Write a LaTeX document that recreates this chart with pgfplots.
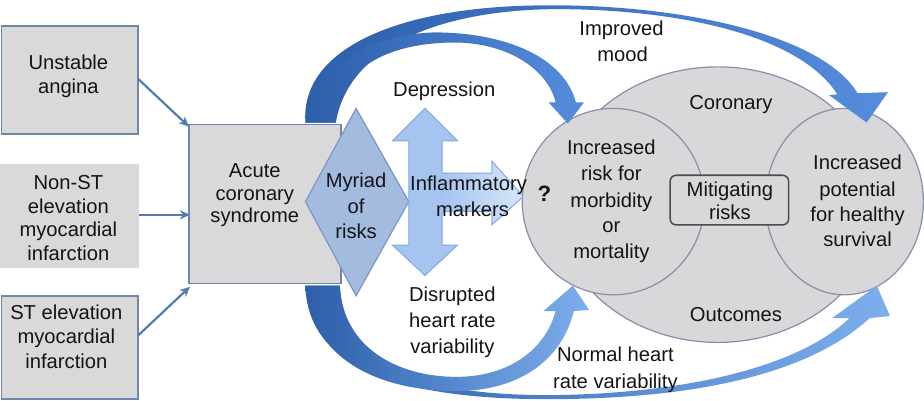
\documentclass[border=0pt]{standalone}
\usepackage{pgfplots}
\pgfplotsset{compat=1.18}
\usepackage{fontspec}
\setmainfont{Liberation Sans}
\usetikzlibrary{arrows.meta}
\definecolor{boxfill}{RGB}{217,217,217}
\definecolor{boxedge}{RGB}{110,135,170}
\definecolor{ellfill}{RGB}{216,216,218}
\definecolor{elledge}{RGB}{135,145,165}
\definecolor{diafill}{RGB}{163,187,222}
\definecolor{diaedge}{RGB}{125,150,195}
\definecolor{dafill}{RGB}{165,196,240}
\definecolor{daedge}{RGB}{135,168,220}
\definecolor{dalight}{RGB}{215,230,250}
\definecolor{arrdark}{RGB}{45,95,170}
\definecolor{arrlight}{RGB}{85,140,220}
\definecolor{arrlight2}{RGB}{125,175,238}
\definecolor{thinarr}{RGB}{85,125,175}
\definecolor{txt}{RGB}{20,20,20}
\newcommand\T[3]{\node[anchor=base,yshift=-6.5bp,text=txt,inner sep=0pt,font=\fontsize{20}{24}\selectfont] at (axis cs:#1,#2) {#3};}
\begin{document}
\begin{tikzpicture}
\begin{axis}[scale only axis, width=924bp, height=401bp,
  xmin=0, xmax=924, ymin=0, ymax=401, y dir=reverse, hide axis, clip=false]
% big ellipse and circles
\draw[elledge, fill=ellfill, line width=1.2bp] (axis cs:720,208) ellipse [x radius=160bp, y radius=136bp];
\draw[elledge, fill=ellfill, line width=1.2bp] (axis cs:617,205) ellipse [x radius=90bp, y radius=92bp];
\draw[elledge, fill=ellfill, line width=1.2bp] (axis cs:845,205) ellipse [x radius=78bp, y radius=92bp];
% mitigating box
\draw[black!70, fill=ellfill, line width=1.5bp, rounded corners=6bp] (axis cs:673,179) rectangle (axis cs:790,228);
% top outer arrow
\shade[left color=arrdark, right color=arrlight]
 (axis cs:313,127) .. controls (axis cs:308,60) and (axis cs:390,18) .. (axis cs:520,12)
 .. controls (axis cs:660,6) and (axis cs:820,35) .. (axis cs:858,98)
 -- (axis cs:888,97) -- (axis cs:867,127) -- (axis cs:830,100) -- (axis cs:838,99)
 .. controls (axis cs:800,40) and (axis cs:680,15) .. (axis cs:560,15)
 .. controls (axis cs:440,16) and (axis cs:355,55) .. (axis cs:343,127) -- cycle;
% top inner arrow
\shade[left color=arrdark, right color=arrlight]
 (axis cs:343,127) .. controls (axis cs:345,70) and (axis cs:400,47) .. (axis cs:465,48)
 .. controls (axis cs:515,50) and (axis cs:552,75) .. (axis cs:560,107)
 -- (axis cs:553,107) -- (axis cs:572,128) -- (axis cs:588,107) -- (axis cs:580,107)
 .. controls (axis cs:568,62) and (axis cs:510,38) .. (axis cs:440,38)
 .. controls (axis cs:370,40) and (axis cs:318,80) .. (axis cs:313,127) -- cycle;
% bottom outer arrow
\shade[left color=arrdark, right color=arrlight2]
 (axis cs:313,288) .. controls (axis cs:315,375) and (axis cs:420,401) .. (axis cs:560,400)
 .. controls (axis cs:700,399) and (axis cs:810,375) .. (axis cs:870,320)
 -- (axis cs:890,318) -- (axis cs:877,288) -- (axis cs:833,320) -- (axis cs:850,320)
 .. controls (axis cs:800,368) and (axis cs:690,394) .. (axis cs:560,396)
 .. controls (axis cs:430,397) and (axis cs:350,370) .. (axis cs:347,288) -- cycle;
% bottom inner arrow
\shade[left color=arrdark, right color=arrlight2]
 (axis cs:347,288) .. controls (axis cs:350,350) and (axis cs:405,378) .. (axis cs:462,378)
 .. controls (axis cs:515,378) and (axis cs:550,350) .. (axis cs:560,313)
 -- (axis cs:548,313) -- (axis cs:577,288) -- (axis cs:593,312) -- (axis cs:578,313)
 .. controls (axis cs:565,365) and (axis cs:520,392) .. (axis cs:462,392)
 .. controls (axis cs:385,392) and (axis cs:318,360) .. (axis cs:313,288) -- cycle;
% left boxes
\draw[boxedge, fill=boxfill, line width=1.8bp] (axis cs:13,32) rectangle (axis cs:148,138);
\draw[black!15, fill=boxfill, line width=1bp] (axis cs:12,168) rectangle (axis cs:148,270);
\draw[boxedge, fill=boxfill, line width=1.8bp] (axis cs:13,298) rectangle (axis cs:148,400);
% ACS box
\draw[boxedge, fill=boxfill, line width=1.5bp] (axis cs:198,129) rectangle (axis cs:348,286);
% thin arrows
\draw[thinarr, line width=2.2bp, -{Stealth[length=10bp,width=9bp]}] (axis cs:148,84) -- (axis cs:198,131);
\draw[thinarr, line width=2.2bp, -{Stealth[length=10bp,width=9bp]}] (axis cs:149,218) -- (axis cs:199,218);
\draw[thinarr, line width=2.2bp, -{Stealth[length=10bp,width=9bp]}] (axis cs:148,337) -- (axis cs:199,289);
% diamond
\draw[diaedge, fill=diafill, line width=1.2bp] (axis cs:313,205) -- (axis cs:363,113) -- (axis cs:415,205) -- (axis cs:363,298) -- cycle;
% double arrow with right branch
\fill[dafill] (axis cs:431,113) -- (axis cs:463,145) -- (axis cs:448,145) -- (axis cs:448,248) -- (axis cs:463,248) -- (axis cs:431,278) -- (axis cs:399,248) -- (axis cs:415,248) -- (axis cs:415,145) -- (axis cs:399,145) -- cycle;
\shade[left color=dafill, right color=dalight] (axis cs:447,177) -- (axis cs:497,177) -- (axis cs:497,165) -- (axis cs:528,200) -- (axis cs:497,228) -- (axis cs:497,215) -- (axis cs:447,215) -- cycle;
\draw[daedge, line width=1bp] (axis cs:431,113) -- (axis cs:463,145) -- (axis cs:448,145) -- (axis cs:448,177) -- (axis cs:497,177) -- (axis cs:497,165) -- (axis cs:528,200) -- (axis cs:497,228) -- (axis cs:497,215) -- (axis cs:448,215) -- (axis cs:448,248) -- (axis cs:463,248) -- (axis cs:431,278) -- (axis cs:399,248) -- (axis cs:415,248) -- (axis cs:415,145) -- (axis cs:399,145) -- cycle;
% texts
\T{79}{68}{Unstable}
\T{79}{92}{angina}
\T{79}{187}{Non-ST}
\T{79}{210}{elevation}
\T{79}{233}{myocardial}
\T{79}{257}{infarction}
\T{77}{315}{ST elevation}
\T{77}{339}{myocardial}
\T{77}{363}{infarction}
\T{263}{175}{Acute}
\T{263}{197}{coronary}
\T{263}{219}{syndrome}
\T{363}{185}{Myriad}
\T{363}{210}{of}
\T{363}{235}{risks}
\T{450}{95}{Depression}
\T{474}{188}{Inflammatory}
\T{478}{213}{markers}
\node[anchor=base,yshift=-8bp,text=txt,inner sep=0pt,font=\fontsize{22}{24}\selectfont\bfseries] at (axis cs:549,197) {?};
\T{458}{297}{Disrupted}
\T{458}{323}{heart rate}
\T{458}{348}{variability}
\T{625}{35}{Improved}
\T{626}{60}{mood}
\T{619}{356}{Normal heart}
\T{619}{383}{rate variability}
\T{733}{108}{Coronary}
\T{738}{317}{Outcomes}
\T{615}{152}{Increased}
\T{615}{178}{risk for}
\T{615}{204}{morbidity}
\T{615}{229}{or}
\T{615}{255}{mortality}
\T{732}{193}{Mitigating}
\T{732}{216}{risks}
\T{858}{167}{Increased}
\T{858}{193}{potential}
\T{858}{218}{for healthy}
\T{858}{243}{survival}
\end{axis}
\end{tikzpicture}
\end{document}
